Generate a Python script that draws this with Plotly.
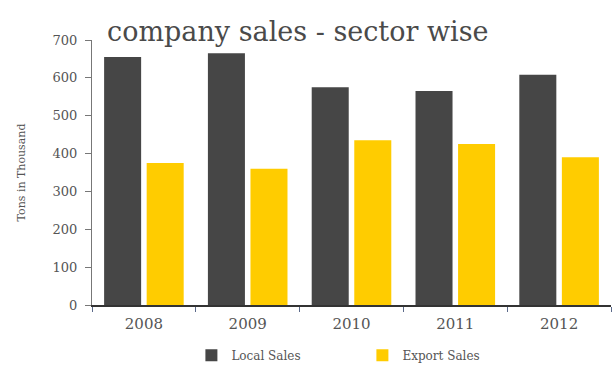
import plotly.graph_objects as go

years = ["2008", "2009", "2010", "2011", "2012"]
local_sales = [655, 665, 575, 565, 608]
export_sales = [375, 360, 435, 425, 390]
y_ticks = [0, 100, 200, 300, 400, 500, 600, 700]

DARK = "#464646"
YELLOW = "#FFCC00"
TEXT = "#555555"
SERIF = "DejaVu Serif, Liberation Serif, serif"

fig = go.Figure()
fig.add_trace(go.Bar(x=years, y=local_sales, name="Local Sales",
                     marker=dict(color=DARK, line=dict(width=0))))
fig.add_trace(go.Bar(x=years, y=export_sales, name="Export Sales",
                     marker=dict(color=YELLOW, line=dict(width=0))))

fig.update_layout(
    width=612, height=367,
    margin=dict(l=92, r=1, t=40, b=62, autoexpand=False),
    paper_bgcolor="white", plot_bgcolor="white",
    barmode="group", bargap=0.18, bargroupgap=0.13,
    title=dict(text="company sales - sector wise", x=0.175, xanchor="left",
               y=0.915, yanchor="middle",
               font=dict(family=SERIF, size=27, color="#4a4a4a")),
    legend=dict(orientation="h", x=0.521, xanchor="center", xref="paper",
                y=-0.19, yanchor="middle",
                font=dict(family=SERIF, size=12, color=TEXT),
                entrywidth=126, itemwidth=30),
    showlegend=True,
)

fig.update_xaxes(
    type="category", showline=True, linecolor="#333333", linewidth=2,
    ticks="outside", tickson="boundaries", ticklen=5, tickcolor="#5b6a8a",
    ticklabelstandoff=4, automargin=False,
    tickfont=dict(family=SERIF, size=15, color=TEXT),
    showgrid=False, zeroline=False,
)
fig.update_yaxes(
    range=[0, 700], tickvals=y_ticks, showline=True, linecolor="#777777",
    linewidth=1, ticks="outside", ticklen=6, tickcolor="#777777",
    ticklabelstandoff=5, automargin=False,
    tickfont=dict(family=SERIF, size=13, color=TEXT),
    title=dict(text="Tons in Thousand", standoff=24,
               font=dict(family=SERIF, size=11, color=TEXT)),
    showgrid=False, zeroline=False,
)

fig.write_html("out.html")
